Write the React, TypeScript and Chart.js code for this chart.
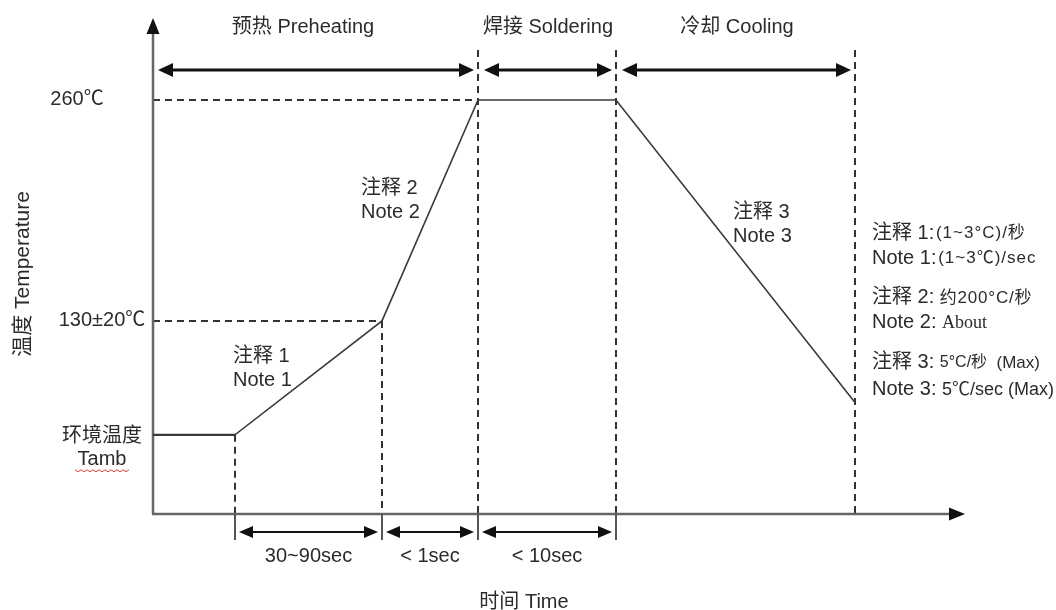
import React, { useEffect, useRef } from 'react';
import { Chart, registerables } from 'chart.js';

Chart.register(...registerables);

// ---- data (schematic time units / °C) ----
const phaseLabels = ['预热 Preheating', '焊接 Soldering', '冷却 Cooling'];
const phaseBounds = [0, 325, 463, 702];
const phaseLabelTimes = [150, 395, 584];
const profileTimes = [0, 82, 229, 325, 463, 702];
const profileTemps = [63, 63, 130, 260, 260, 82];
const tempTickValues = [260, 130];
const tempTickLabels = ['260℃', '130±20℃'];
const ambientLabel = ['环境温度', 'Tamb'];
const durationBounds = [82, 229, 325, 463];
const durationLabels = ['30~90sec', '< 1sec', '< 10sec'];
const noteTitles = ['注释 1', '注释 2', '注释 3'];
const noteSubtitles = ['Note 1', 'Note 2', 'Note 3'];
const noteTimes = [80, 208, 580];
const noteTemps = [102, 201, 187];
const xAxisTitle = '时间 Time';
const yAxisTitle = '温度 Temperature';
const X_MAX = 812;
const Y_MIN = 16.4;
const Y_MAX = 308.2;

const SANS = '"Liberation Sans", Arial, "Noto Sans CJK SC", sans-serif';
const SERIF = '"Liberation Serif", "Times New Roman", "Noto Sans CJK SC", serif';
const TXT = '#2b2b2b';

type Run = [string, string, number?];
const sideNotes: Run[][] = [
  [['注释 1:', `20px ${SANS}`], [' ', `6px ${SANS}`], ['(1~3°C)/秒', `17px ${SANS}`, 1]],
  [['Note 1:', `20px ${SANS}`], [' ', `6px ${SANS}`], ['(1~3℃)/sec', `17px ${SANS}`, 1]],
  [['注释 2: ', `20px ${SANS}`], ['约200°C/秒', `17px ${SANS}`, 0.8]],
  [['Note 2: ', `20px ${SANS}`], ['About', `18px ${SERIF}`]],
  [['注释 3: ', `20px ${SANS}`], ['5°C/秒', `16px ${SANS}`], ['  (Max)', `17px ${SANS}`]],
  [['Note 3: ', `20px ${SANS}`], ['5℃/sec (Max)', `18px ${SANS}`]],
];
const sideNoteTemps = [181.7, 167, 143.5, 128.8, 105.3, 89.4];
const sideNoteTime = 719;

function head(ctx: CanvasRenderingContext2D, tx: number, ty: number, dx: number, dy: number, len: number, half: number) {
  const bx = tx - dx * len;
  const by = ty - dy * len;
  const px = -dy;
  const py = dx;
  ctx.beginPath();
  ctx.moveTo(tx, ty);
  ctx.lineTo(bx + px * half, by + py * half);
  ctx.lineTo(bx - px * half, by - py * half);
  ctx.closePath();
  ctx.fill();
}

function dblArrow(ctx: CanvasRenderingContext2D, x1: number, x2: number, y: number, lw: number, len: number, half: number) {
  ctx.save();
  ctx.strokeStyle = '#111';
  ctx.fillStyle = '#111';
  ctx.lineWidth = lw;
  ctx.beginPath();
  ctx.moveTo(x1 + len - 2, y);
  ctx.lineTo(x2 - len + 2, y);
  ctx.stroke();
  head(ctx, x1, y, -1, 0, len, half);
  head(ctx, x2, y, 1, 0, len, half);
  ctx.restore();
}

function runs(ctx: CanvasRenderingContext2D, x: number, y: number, rs: Run[]) {
  let cx = x;
  for (const [t, f, sp] of rs) {
    ctx.font = f;
    (ctx as any).letterSpacing = `${sp || 0}px`;
    ctx.fillText(t, cx, y);
    cx += ctx.measureText(t).width;
  }
  (ctx as any).letterSpacing = '0px';
}

const diagramPlugin = {
  id: 'reflowDiagram',
  beforeDatasetsDraw(chart: any) {
    const ctx: CanvasRenderingContext2D = chart.ctx;
    const xs = chart.scales.x;
    const ys = chart.scales.y;
    const px = (t: number) => xs.getPixelForValue(t);
    const py = (v: number) => ys.getPixelForValue(v);
    const x0 = px(0);
    const yb = py(Y_MIN);
    ctx.save();
    // dashed guides
    ctx.strokeStyle = '#333';
    ctx.lineWidth = 2;
    ctx.setLineDash([7, 5]);
    tempTickValues.forEach((v) => {
      const endT = profileTimes[profileTemps.indexOf(v)];
      ctx.beginPath();
      ctx.moveTo(x0, py(v));
      ctx.lineTo(px(endT), py(v));
      ctx.stroke();
    });
    [1, 2].forEach((i) => {
      ctx.beginPath();
      ctx.moveTo(px(profileTimes[i]), py(profileTemps[i]));
      ctx.lineTo(px(profileTimes[i]), yb);
      ctx.stroke();
    });
    const topY = py(289.4);
    phaseBounds.slice(1).forEach((t) => {
      ctx.beginPath();
      ctx.moveTo(px(t), topY);
      ctx.lineTo(px(t), yb);
      ctx.stroke();
    });
    ctx.setLineDash([]);
    // axes
    ctx.strokeStyle = '#666';
    ctx.fillStyle = '#111';
    ctx.lineWidth = 2.5;
    ctx.beginPath();
    ctx.moveTo(x0, yb);
    ctx.lineTo(x0, py(Y_MAX) + 12);
    ctx.stroke();
    head(ctx, x0, py(Y_MAX), 0, -1, 16, 6.5);
    ctx.beginPath();
    ctx.moveTo(x0 - 1, yb);
    ctx.lineTo(px(X_MAX) - 12, yb);
    ctx.stroke();
    head(ctx, px(X_MAX), yb, 1, 0, 16, 6.5);
    // duration ticks
    ctx.strokeStyle = '#555';
    ctx.lineWidth = 2;
    durationBounds.forEach((t) => {
      ctx.beginPath();
      ctx.moveTo(px(t), yb);
      ctx.lineTo(px(t), yb + 26);
      ctx.stroke();
    });
    ctx.restore();
  },
  afterDatasetsDraw(chart: any) {
    const ctx: CanvasRenderingContext2D = chart.ctx;
    const xs = chart.scales.x;
    const ys = chart.scales.y;
    const px = (t: number) => xs.getPixelForValue(t);
    const py = (v: number) => ys.getPixelForValue(v);
    const yb = py(Y_MIN);
    ctx.save();
    // thicker ambient segment
    ctx.strokeStyle = '#3a3a3a';
    ctx.lineWidth = 2.2;
    ctx.beginPath();
    ctx.moveTo(px(profileTimes[0]), py(profileTemps[0]));
    ctx.lineTo(px(profileTimes[1]), py(profileTemps[1]));
    ctx.stroke();
    // phase arrows + titles
    const arrowY = py(277.6);
    for (let i = 0; i < 3; i++) {
      const a = px(phaseBounds[i]) + (i === 0 ? 5 : 6);
      const b = px(phaseBounds[i + 1]) - 4;
      dblArrow(ctx, a, b, arrowY, 3.2, 15, 7);
    }
    ctx.fillStyle = TXT;
    ctx.textBaseline = 'middle';
    ctx.textAlign = 'center';
    ctx.font = `20px ${SANS}`;
    phaseLabels.forEach((l, i) => ctx.fillText(l, px(phaseLabelTimes[i]), py(302.9)));
    // duration arrows
    const dY = yb + 18;
    for (let i = 0; i < 3; i++) {
      const a = px(durationBounds[i]) + 4;
      const b = px(durationBounds[i + 1]) - 4;
      dblArrow(ctx, a, b, dY, 2, 14, 6);
    }
    ctx.fillStyle = TXT;
    ctx.font = `20px ${SANS}`;
    durationLabels.forEach((l, i) => {
      const c = (px(durationBounds[i]) + px(durationBounds[i + 1])) / 2;
      ctx.fillText(l, c, yb + 42);
    });
    // axis titles
    ctx.fillText(xAxisTitle, px(371), yb + 88);
    ctx.save();
    ctx.translate(px(-130), py(157.6));
    ctx.rotate(-Math.PI / 2);
    ctx.font = `21px ${SANS}`;
    ctx.fillText(yAxisTitle, 0, 0);
    ctx.restore();
    // temperature labels
    ctx.font = `20px ${SANS}`;
    ctx.fillText(tempTickLabels[0], px(-76), py(tempTickValues[0]));
    ctx.fillText(tempTickLabels[1], px(-51), py(tempTickValues[1]));
    const ambY = py(profileTemps[0]);
    ctx.fillText(ambientLabel[0], px(-51), ambY + 2);
    ctx.fillText(ambientLabel[1], px(-51), ambY + 25);
    // red squiggle under Tamb
    ctx.save();
    ctx.strokeStyle = '#e04040';
    ctx.lineWidth = 1;
    ctx.beginPath();
    const sx = px(-78);
    const sy = ambY + 35;
    for (let k = 0; k <= 18; k++) {
      const xx = sx + k * 3;
      const yy = sy + (k % 2 === 0 ? 0 : 2);
      if (k === 0) ctx.moveTo(xx, yy);
      else ctx.lineTo(xx, yy);
    }
    ctx.stroke();
    ctx.restore();
    // slope notes
    ctx.textAlign = 'left';
    noteTitles.forEach((t, i) => {
      const cx = px(noteTimes[i]);
      const cy = py(noteTemps[i]);
      ctx.font = `20px ${SANS}`;
      ctx.fillText(t, cx, cy - 12);
      ctx.fillText(noteSubtitles[i], cx, cy + 12);
    });
    // side notes
    sideNotes.forEach((rs, i) => runs(ctx, px(sideNoteTime), py(sideNoteTemps[i]), rs));
    ctx.restore();
  },
};

export default function App() {
  const ref = useRef<HTMLCanvasElement | null>(null);
  useEffect(() => {
    if (!ref.current) return;
    const chart = new Chart(ref.current, {
      type: 'line',
      data: {
        datasets: [
          {
            data: profileTimes.map((t, i) => ({ x: t, y: profileTemps[i] })),
            borderColor: '#3a3a3a',
            borderWidth: 1.6,
            pointRadius: 0,
            tension: 0,
            fill: false,
            clip: false as any,
          },
        ],
      },
      options: {
        responsive: false,
        animation: false,
        layout: { padding: { left: 153, right: 91, top: 18, bottom: 96 } },
        plugins: { legend: { display: false }, tooltip: { enabled: false } },
        scales: {
          x: { type: 'linear', min: 0, max: X_MAX, display: false },
          y: { type: 'linear', min: Y_MIN, max: Y_MAX, display: false },
        },
      },
      plugins: [diagramPlugin],
    });
    return () => chart.destroy();
  }, []);
  return (
    <div style={{ position: 'fixed', left: 0, top: 0, width: 1056, height: 610, background: '#fff' }}>
      <canvas ref={ref} width={1056} height={610} style={{ width: 1056, height: 610, display: 'block' }} />
    </div>
  );
}
